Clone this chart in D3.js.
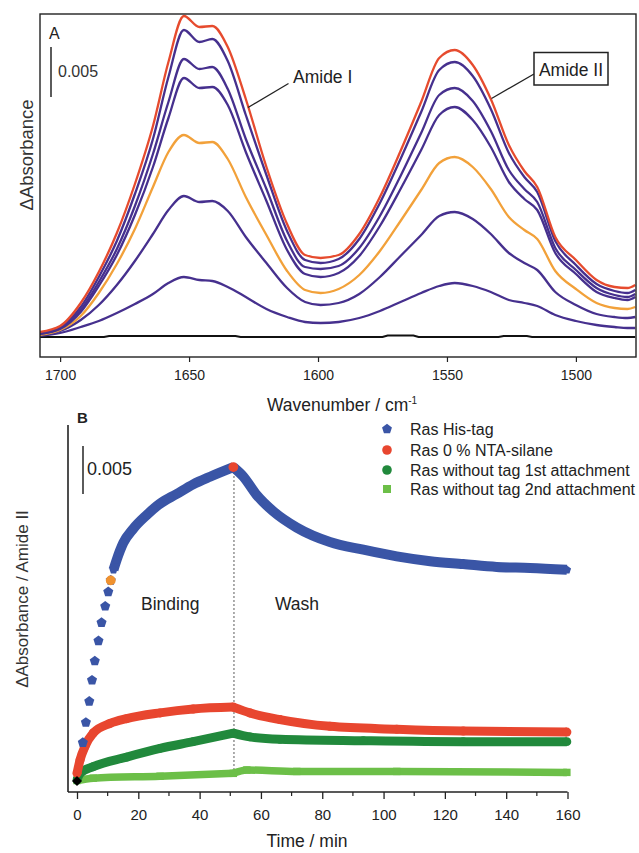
<!DOCTYPE html>
<html><head><meta charset="utf-8">
<script src="https://cdn.jsdelivr.net/npm/d3@7"></script>
<style>
html,body{margin:0;padding:0;background:#fff;}
svg{display:block;font-family:"Liberation Sans",Arial,sans-serif;}
</style></head>
<body><svg id="chart" width="639" height="853"></svg>
<script>
// ---------------- Panel A data (ΔAbsorbance in units of 1e-4) ----------------
const wavenumbers = [1708,1700,1692,1685,1678,1671,1664,1658,1652,1646,1641,1635,1628,1620,1612,1605,1599,1592,1584,1576,1568,1560,1553,1547,1540,1533,1526,1520,1515,1508,1500,1492,1485,1480,1477];
const specRed    = [5,11,34,65,104,153,211,275,321,310,311,290,238,170,113,82,79,82,103,140,186,235,279,287,272,238,192,166,150,100,77,57,50,49,52];
const specP1     = [4,10,30,60,96,143,198,260,307,295,298,276,222,162,106,77,74,78,98,134,178,225,267,275,261,228,184,160,145,96,72,53,46,44,47];
const specP2     = [3,9,27,55,88,131,183,235,278,268,270,248,198,148,96,70,68,71,89,121,161,204,242,249,236,206,167,148,135,89,67,49,42,40,43];
const specP3     = [3,8,25,51,82,122,170,219,259,249,250,232,185,136,87,63,60,64,81,111,148,187,222,230,217,190,155,138,127,84,63,45,39,37,40];
const specOrange = [2,7,21,44,73,108,150,185,202,194,195,178,140,102,66,47,44,48,62,86,116,147,174,180,170,148,120,107,98,66,48,34,29,28,30];
const specP4     = [2,6,17,32,52,76,103,127,141,135,136,126,100,74,49,35,32,34,43,60,81,102,121,125,118,103,84,74,67,45,32,23,20,19,20];
const specP5     = [1,4,10,16,24,33,43,54,60,57,56,50,40,28,20,15,14,15,19,26,35,44,51,54,51,45,37,34,31,22,16,12,10,9,9];
const baselineWn = [1708,1683,1681,1632,1630,1575,1573,1563,1561,1530,1528,1519,1517,1477];
const baselineV  = [0,0,1,1,0,0,1.5,1.5,0,0,1,1,0,0];
const xTicksA = [1700,1650,1600,1550,1500];

// ---------------- Panel B data (ΔAbsorbance / Amide II, units of 1e-4) ----------------
const blueT = [1.9,2.9,4.0,4.9,5.8,7.0,8.0,9.2,10.2,11.0,11.9,12.9,15.1,18.4,22.7,27.1,32.5,37.9,43.4,51.0,54.3,58.6,64.0,71.7,82.5,93.4,104.3,115.2,126.0,136.9,147.8,159.8];
const blueV = [41,62,84,106,126,147,166,183,198,210,221,231,249,264,278,290,300,310,318,328,318,299,282,265,250,242,235,230,227,224,223,221];
const redT = [0,1.0,2.6,5.3,10.8,16.2,27.1,37.9,51.0,56.4,66.2,82.5,104.3,126.0,159.8];
const redV = [9,23,37,51,61,66,72,76,78,72,65,58,55,53,52];
const dgreenT = [0,1.0,5.3,16.2,27.1,37.9,51.0,56.4,66.2,93.4,126.0,159.8];
const dgreenV = [2,9,16,26,35,42,51,47,44.5,43,42,42];
const lgreenT = [0,5.3,27.1,51.0,55.4,71.7,104.3,159.8];
const lgreenV = [1.5,4,6,9,12.5,11,11,10];
const highlightT = [11.0, 51.0];
const highlightV = [210, 328];
const originT = [0], originV = [1];
const washStart = 51.2;
const xTicksB = [0,20,40,60,80,100,120,140,160];
const xMinorB = [10,30,50,70,90,110,130,150];
const legendLabels = ["Ras His-tag","Ras 0 % NTA-silane","Ras without tag 1st attachment","Ras without tag 2nd attachment"];

// colours
const C = {red:"#e64b2e", purple:"#46308e", orange:"#f2a13a", blue:"#3a55a6", bred:"#e8462f", dgreen:"#21893c", lgreen:"#6cbf48", horange:"#f0922f"};

const svg = d3.select("#chart");
svg.append("rect").attr("width",639).attr("height",853).attr("fill","#fff");

// ================= Panel A =================
const xA = d3.scaleLinear().domain([1707.8,1476.7]).range([40,636]);
const yA = d3.scaleLinear().domain([-20,323]).range([357,14]);
const gA = svg.append("g");
svg.append("clipPath").attr("id","clipA").append("rect").attr("x",40).attr("y",14).attr("width",596).attr("height",343);

const lineA = d3.line().x((d,i)=>xA(wavenumbers[i])).y(d=>yA(d)).curve(d3.curveMonotoneX);
const spectra = [
  {v:specP5,c:C.purple},{v:specP4,c:C.purple},{v:specOrange,c:C.orange},
  {v:specP3,c:C.purple},{v:specP2,c:C.purple},{v:specP1,c:C.purple},{v:specRed,c:C.red}
];
const gSpec = gA.append("g").attr("clip-path","url(#clipA)");
gSpec.append("path").datum(baselineV)
  .attr("d", d3.line().x((d,i)=>xA(baselineWn[i])).y(d=>yA(d)))
  .attr("fill","none").attr("stroke","#111").attr("stroke-width",2);
gSpec.selectAll("path.spec").data(spectra).join("path").attr("class","spec")
  .attr("d",d=>lineA(d.v)).attr("fill","none").attr("stroke",d=>d.c)
  .attr("stroke-width",2.3).attr("stroke-linejoin","round");

gA.append("rect").attr("x",40).attr("y",14).attr("width",596).attr("height",343)
  .attr("fill","none").attr("stroke","#222").attr("stroke-width",1.4);
const axA = gA.append("g").attr("transform","translate(0,357)")
  .call(d3.axisBottom(xA).tickValues(xTicksA).tickSize(5).tickSizeOuter(0).tickFormat(d3.format("d")));
axA.select(".domain").remove();
axA.selectAll("line").attr("stroke","#222").attr("stroke-width",1.2);
axA.selectAll("text").attr("font-size",14).attr("fill","#222").attr("dy","1.05em").attr("font-family","Liberation Sans, Arial, sans-serif");

// scale bar A
gA.append("line").attr("x1",51).attr("x2",51).attr("y1",yA(290)).attr("y2",yA(240)).attr("stroke","#333").attr("stroke-width",1.6);
gA.append("text").attr("x",58).attr("y",77).attr("font-size",16).attr("fill","#333").text("0.005");
gA.append("text").attr("x",49).attr("y",39).attr("font-size",16).attr("fill","#222").text("A");
// annotations
gA.append("line").attr("x1",248).attr("y1",107.5).attr("x2",288.5).attr("y2",83.5).attr("stroke","#222").attr("stroke-width",1.3);
gA.append("text").attr("x",293).attr("y",83).attr("font-size",17.5).attr("fill","#222").text("Amide I");
gA.append("line").attr("x1",491.5).attr("y1",98.5).attr("x2",534).attr("y2",74).attr("stroke","#222").attr("stroke-width",1.3);
gA.append("rect").attr("x",534).attr("y",52.5).attr("width",74).attr("height",32.5).attr("fill","#fff").attr("stroke","#222").attr("stroke-width",1.5);
gA.append("text").attr("x",571).attr("y",75.5).attr("text-anchor","middle").attr("font-size",17.5).attr("fill","#222").text("Amide II");
gA.append("text").attr("transform","translate(33,155) rotate(-90)").attr("text-anchor","middle")
  .attr("font-size",18.5).attr("fill","#333").text("ΔAbsorbance");
const xl = gA.append("text").attr("x",342).attr("y",411).attr("text-anchor","middle").attr("font-size",17.5).attr("fill","#222");
xl.append("tspan").text("Wavenumber / cm");
xl.append("tspan").attr("dy",-7).attr("font-size",10).text("-1");

// ================= Panel B =================
const xB = d3.scaleLinear().domain([0,160]).range([77,567.5]);
const yB = d3.scaleLinear().domain([0,372]).range([782,782-372*0.96]);
const gB = svg.append("g");

// axes lines
gB.append("line").attr("x1",68).attr("x2",68).attr("y1",yB(372)).attr("y2",792).attr("stroke","#222").attr("stroke-width",1.6);
gB.append("line").attr("x1",68).attr("x2",xB(160)).attr("y1",792).attr("y2",792).attr("stroke","#222").attr("stroke-width",1.6);
const axB = gB.append("g").attr("transform","translate(0,792)")
  .call(d3.axisBottom(xB).tickValues(xTicksB).tickSize(7).tickSizeOuter(0).tickFormat(d3.format("d")));
axB.select(".domain").remove();
axB.selectAll("line").attr("stroke","#222").attr("stroke-width",1.3);
axB.selectAll("text").attr("font-size",15).attr("fill","#222").attr("dy","1.2em").attr("font-family","Liberation Sans, Arial, sans-serif");
gB.selectAll("line.minor").data(xMinorB).join("line").attr("class","minor")
  .attr("x1",d=>xB(d)).attr("x2",d=>xB(d)).attr("y1",792).attr("y2",796).attr("stroke","#222").attr("stroke-width",1.2);

// wash divider
gB.append("line").attr("x1",xB(washStart)).attr("x2",xB(washStart)).attr("y1",yB(327)).attr("y2",yB(6.5))
  .attr("stroke","#777").attr("stroke-width",1.2).attr("stroke-dasharray","2,2");

const pentagon = (cx,cy,r)=>{
  const pts=d3.range(5).map(k=>{const a=-Math.PI/2+k*2*Math.PI/5;return [cx+r*Math.cos(a),cy+r*Math.sin(a)];});
  return "M"+pts.map(p=>p.join(",")).join("L")+"Z";
};
const bandLine = d3.line().x(d=>xB(d[0])).y(d=>yB(d[1])).curve(d3.curveMonotoneX);
function band(T,V,color,width,split){
  const pts=T.map((t,i)=>[t,V[i]]);
  const seg1=pts.filter(p=>p[0]<=split), seg2=pts.filter(p=>p[0]>=split);
  [seg1,seg2].forEach(s=>{
    gB.append("path").datum(s).attr("d",bandLine).attr("fill","none").attr("stroke",color)
      .attr("stroke-width",width).attr("stroke-linejoin","round").attr("stroke-linecap","butt");
  });
}
// light green squares
band(lgreenT,lgreenV,C.lgreen,7.5,51);
gB.selectAll("rect.lg").data(lgreenT.map((t,i)=>[t,lgreenV[i]])).join("rect").attr("class","lg")
  .attr("x",d=>xB(d[0])-3.7).attr("y",d=>yB(d[1])-3.7).attr("width",7.4).attr("height",7.4).attr("fill",C.lgreen);
// dark green
band(dgreenT,dgreenV,C.dgreen,9,51);
gB.selectAll("circle.dg").data(dgreenT.map((t,i)=>[t,dgreenV[i]])).join("circle").attr("class","dg")
  .attr("cx",d=>xB(d[0])).attr("cy",d=>yB(d[1])).attr("r",4.4).attr("fill",C.dgreen);
// red
band(redT,redV,C.bred,9,51);
gB.selectAll("circle.rd").data(redT.map((t,i)=>[t,redV[i]])).join("circle").attr("class","rd")
  .attr("cx",d=>xB(d[0])).attr("cy",d=>yB(d[1])).attr("r",4.5).attr("fill",C.bred);
// blue: band where dense, pentagons everywhere
const bluePts = blueT.map((t,i)=>[t,blueV[i]]);
const blueDense = bluePts.filter(p=>p[0]>=11.9);
[blueDense.filter(p=>p[0]<=51), blueDense.filter(p=>p[0]>=51)].forEach(s=>{
  gB.append("path").datum(s).attr("d",bandLine).attr("fill","none").attr("stroke",C.blue)
    .attr("stroke-width",10).attr("stroke-linejoin","round");
});
gB.selectAll("path.bp").data(bluePts).join("path").attr("class","bp")
  .attr("d",d=>pentagon(xB(d[0]),yB(d[1]),d[0]>=11.9?4.4:5.3)).attr("fill",C.blue);
// highlights
gB.selectAll("circle.hl").data(highlightT.map((t,i)=>[t,highlightV[i]])).join("circle").attr("class","hl")
  .attr("cx",d=>xB(d[0])).attr("cy",d=>yB(d[1])).attr("r",4.9).attr("fill",(d,i)=>i===0?C.horange:C.bred);
// origin diamond
gB.selectAll("path.orig").data(originT.map((t,i)=>[t,originV[i]])).join("path").attr("class","orig")
  .attr("d",d=>{const x=xB(d[0]),y=yB(d[1]);return `M${x},${y-5}L${x+5},${y}L${x},${y+5}L${x-5},${y}Z`;}).attr("fill","#000");

// scale bar B
gB.append("line").attr("x1",83).attr("x2",83).attr("y1",yB(350)).attr("y2",yB(300)).attr("stroke","#333").attr("stroke-width",1.6);
gB.append("text").attr("x",87).attr("y",475).attr("font-size",18).attr("fill","#222").text("0.005");
gB.append("text").attr("x",77).attr("y",423).attr("font-size",15).attr("font-weight","bold").attr("fill","#222").text("B");
gB.append("text").attr("x",141).attr("y",610).attr("font-size",17.5).attr("fill","#222").text("Binding");
gB.append("text").attr("x",275).attr("y",610).attr("font-size",17.5).attr("fill","#222").text("Wash");
gB.append("text").attr("transform","translate(28,599) rotate(-90)").attr("text-anchor","middle")
  .attr("font-size",17).attr("fill","#333").text("ΔAbsorbance / Amide II");
gB.append("text").attr("x",307).attr("y",847).attr("text-anchor","middle").attr("font-size",17.5).attr("fill","#222").text("Time / min");

// legend
const legY=[429,450,470,489];
const lg = gB.append("g");
legendLabels.forEach((lab,i)=>{
  const cy=legY[i], cx=387;
  if(i===0) lg.append("path").attr("d",pentagon(cx,cy,5.2)).attr("fill",C.blue);
  else if(i===1) lg.append("circle").attr("cx",cx).attr("cy",cy).attr("r",4.8).attr("fill",C.bred);
  else if(i===2) lg.append("circle").attr("cx",cx).attr("cy",cy).attr("r",4.8).attr("fill",C.dgreen);
  else lg.append("rect").attr("x",cx-4).attr("y",cy-4).attr("width",8).attr("height",8).attr("fill",C.lgreen);
  lg.append("text").attr("x",410).attr("y",cy+6).attr("font-size",16).attr("fill","#222").text(lab);
});
</script></body></html>
